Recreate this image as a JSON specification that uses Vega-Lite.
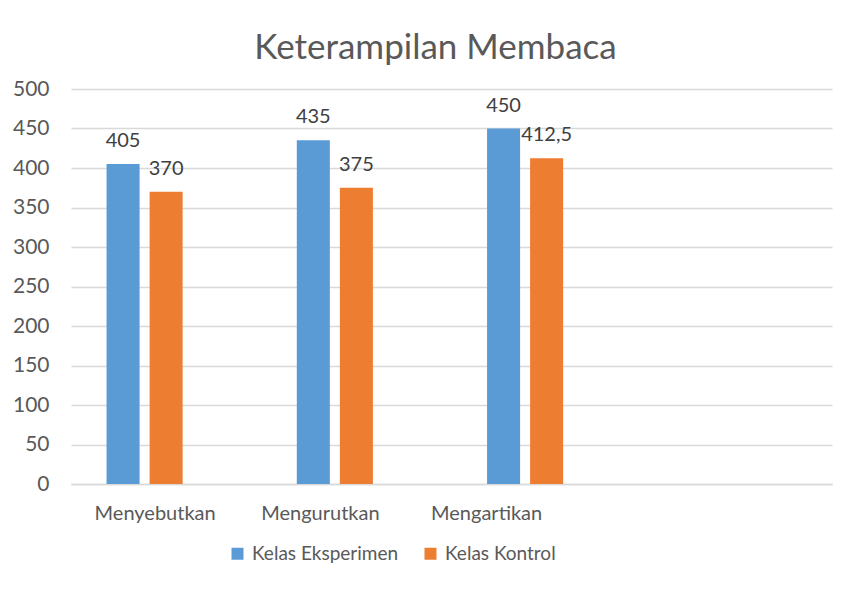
{
  "$schema": "https://vega.github.io/schema/vega-lite/v6.json",
  "width": 761,
  "height": 395,
  "autosize": {"type": "none"},
  "padding": {"left": 71, "top": 89, "right": 20, "bottom": 106},
  "background": "white",
  "title": {
    "text": "Keterampilan Membaca",
    "fontSize": 35,
    "font": "Lato",
    "fontWeight": "normal",
    "color": "#595959",
    "anchor": "middle",
    "frame": "group",
    "dx": -16,
    "offset": 12
  },
  "config": {
    "view": {"stroke": null},
    "font": "Lato",
    "locale": {
      "number": {"decimal": ",", "thousands": ".", "grouping": [3], "currency": ["", ""]}
    }
  },
  "data": {
    "values": [
      {"cat": "Menyebutkan", "series": "Kelas Eksperimen", "value": 405},
      {"cat": "Menyebutkan", "series": "Kelas Kontrol", "value": 370},
      {"cat": "Mengurutkan", "series": "Kelas Eksperimen", "value": 435},
      {"cat": "Mengurutkan", "series": "Kelas Kontrol", "value": 375},
      {"cat": "Mengartikan", "series": "Kelas Eksperimen", "value": 450},
      {"cat": "Mengartikan", "series": "Kelas Kontrol", "value": 412.5}
    ]
  },
  "encoding": {
    "x": {
      "field": "cat",
      "type": "nominal",
      "sort": null,
      "scale": {"domain": ["Menyebutkan", "Mengurutkan", "Mengartikan", " "], "paddingInner": 0, "paddingOuter": 0},
      "axis": {
        "title": null,
        "labelAngle": 0,
        "ticks": false,
        "domainColor": "#d9d9d9",
        "domainWidth": 1.5,
        "labelFontSize": 20,
        "labelColor": "#595959",
        "labelPadding": 19,
        "labelFont": "Lato",
        "labelOffset": {
          "condition": [
            {"test": "datum.value === 'Menyebutkan'", "value": -11},
            {"test": "datum.value === 'Mengurutkan'", "value": -36}
          ],
          "value": -60
        }
      }
    },
    "xOffset": {
      "field": "series",
      "type": "nominal",
      "scale": {"domain": ["Kelas Eksperimen", "Kelas Kontrol", "_"], "paddingInner": 0.2326, "paddingOuter": 0.826}
    },
    "y": {
      "field": "value",
      "type": "quantitative",
      "scale": {"domain": [0, 500], "nice": false},
      "axis": {
        "title": null,
        "values": [0, 50, 100, 150, 200, 250, 300, 350, 400, 450, 500],
        "domain": false,
        "ticks": false,
        "gridColor": "#d9d9d9",
        "gridWidth": 1.5,
        "labelFontSize": 21,
        "labelColor": "#595959",
        "labelPadding": 22,
        "labelFont": "Lato"
      }
    }
  },
  "layer": [
    {
      "mark": {"type": "bar"},
      "encoding": {
        "color": {
          "field": "series",
          "type": "nominal",
          "scale": {"domain": ["Kelas Eksperimen", "Kelas Kontrol"], "range": ["#5b9bd5", "#ed7d31"]},
          "legend": {
            "title": null,
            "orient": "none",
            "direction": "horizontal",
            "legendX": 157,
            "legendY": 455,
            "symbolType": "square",
            "symbolSize": 144,
            "symbolStrokeWidth": 0,
            "symbolOpacity": 1,
            "labelFontSize": 19,
            "labelColor": "#595959",
            "labelFont": "Lato",
            "labelOffset": 5,
            "columnPadding": 22
          }
        }
      }
    },
    {
      "mark": {"type": "text", "baseline": "alphabetic", "dy": -17, "fontSize": 20, "color": "#404040", "font": "Lato"},
      "encoding": {
        "text": {"field": "value", "type": "quantitative"}
      }
    }
  ]
}
